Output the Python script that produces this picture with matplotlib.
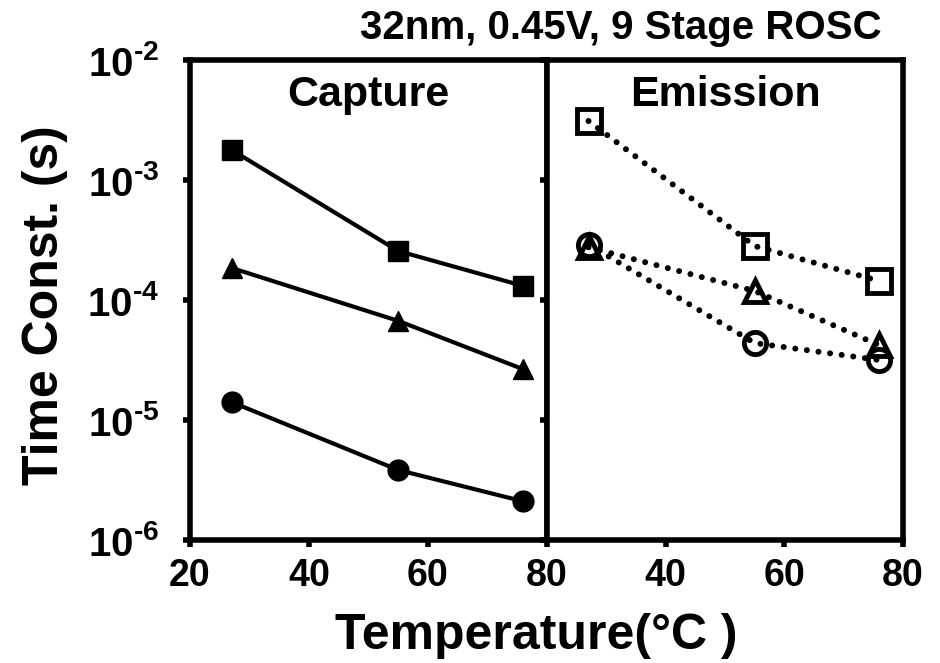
import matplotlib
matplotlib.use("Agg")
import matplotlib.pyplot as plt
from matplotlib.ticker import NullLocator

plt.rcParams['font.family'] = ['Liberation Sans', 'DejaVu Sans']
plt.rcParams['font.weight'] = 'bold'
plt.rcParams['mathtext.fontset'] = 'custom'
plt.rcParams['mathtext.rm'] = 'Liberation Sans:bold'
plt.rcParams['mathtext.bf'] = 'Liberation Sans:bold'

# dados
temp = [27, 55, 76]
cap_sq = [1.78e-3, 2.56e-4, 1.31e-4]
cap_tri = [1.85e-4, 6.7e-5, 2.65e-5]
cap_circ = [1.41e-5, 3.83e-6, 2.1e-6]
emi_sq = [3.1e-3, 2.82e-4, 1.44e-4]
emi_tri = [2.75e-4, 1.19e-4, 4.2e-5]
emi_circ = [2.9e-4, 4.38e-5, 3.16e-5]

yticks = [1e-6, 1e-5, 1e-4, 1e-3, 1e-2]
ytick_labels = [r'$10^{\text{-}6}$', r'$10^{\text{-}5}$', r'$10^{\text{-}4}$',
                r'$10^{\text{-}3}$', r'$10^{\text{-}2}$']

fig = plt.figure(figsize=(9.4, 6.63), dpi=100)
ax1 = fig.add_axes([0.2021, 0.1855, 0.3798, 0.724])
ax2 = fig.add_axes([0.5819, 0.1855, 0.3787, 0.724])

for ax in (ax1, ax2):
    ax.set_yscale('log')
    ax.set_ylim(1e-6, 1e-2)
    ax.set_xlim(20, 80)
    ax.yaxis.set_minor_locator(NullLocator())
    for s in ax.spines.values():
        s.set_linewidth(4)
    ax.tick_params(direction='out', length=5, width=4, labelsize=27, pad=8)

# Capture
ax1.plot(temp, cap_sq, '-', color='black', lw=3, marker='s', ms=14)
ax1.plot(temp, cap_tri, '-', color='black', lw=3, marker='^', ms=15)
ax1.plot(temp, cap_circ, '-', color='black', lw=3, marker='o', ms=15)
ax1.set_xticks([20, 40, 60, 80])
ax1.set_yticks(yticks)
ax1.set_yticklabels(ytick_labels, fontsize=29)
ax1.tick_params(axis='y', right=False, pad=17)
ax1.text(0.5, 0.927, 'Capture', transform=ax1.transAxes, ha='center',
         va='center', fontsize=31, fontweight='bold')

# Emission
dot = (0, (0.01, 1.95))
for vals, mk, ms in [(emi_sq, 's', 17), (emi_tri, '^', 16), (emi_circ, 'o', 16)]:
    ax2.plot(temp, vals, color='black', lw=4.3, linestyle=dot,
             dash_capstyle='round', marker=mk, ms=ms, mfc='none',
             mec='black', mew=3.5)
ax2.set_xticks([40, 60, 80])
ax2.set_yticks(yticks)
ax2.tick_params(axis='y', left=True, labelleft=False, right=False)
ax2.text(0.5, 0.927, 'Emission', transform=ax2.transAxes, ha='center',
         va='center', fontsize=31, fontweight='bold')

fig.text(0.66, 0.958, '32nm, 0.45V, 9 Stage ROSC', ha='center', va='center',
         fontsize=29, fontweight='bold')
fig.text(0.048, 0.54, 'Time Const. (s)', rotation=90, ha='center', va='center',
         fontsize=36, fontweight='bold')
fig.text(0.57, 0.04, 'Temperature(°C )', ha='center', va='center',
         fontsize=36, fontweight='bold')

fig.savefig('out.png', dpi=100)
